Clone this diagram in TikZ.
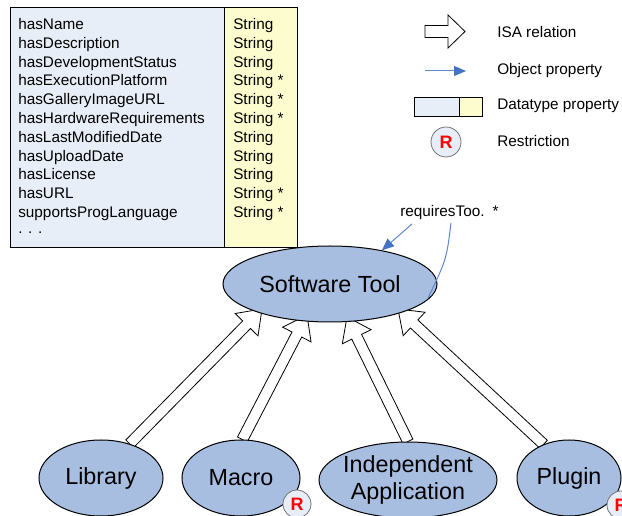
\documentclass[tikz,border=0pt]{standalone}
\usepackage{fontspec}
\setmainfont{Liberation Sans}
\usetikzlibrary{calc,arrows.meta,shapes.geometric}

\pgfdeclarelayer{back}
\pgfsetlayers{back,main}

\definecolor{classfill}{RGB}{168,190,225}
\definecolor{propfill}{RGB}{232,238,248}
\definecolor{typefill}{RGB}{252,252,206}
\definecolor{objblue}{RGB}{68,114,196}
\definecolor{objline}{RGB}{95,135,205}
\definecolor{rfill}{RGB}{232,238,248}
\definecolor{rred}{RGB}{255,0,0}

\tikzset{
  cls/.style={ellipse, draw=black, line width=0.75pt, fill=classfill,
    inner sep=-8pt, align=center,
    font=\fontsize{17.5pt}{20.25pt}\selectfont},
  small/.style={font=\fontsize{11.5pt}{13pt}\selectfont, inner sep=0pt},
  isa/.style={draw=black, fill=white, line width=0.6pt, line join=miter},
  objline/.style={draw=objline, line width=0.75pt},
  objprop/.style={objline, -{Triangle[length=9pt,width=7.5pt,color=objblue]}},
  rmark/.style={circle, draw=black!55, fill=rfill, line width=0.6pt,
    inner sep=0pt, text=rred,
    font=\fontsize{13.5pt}{14pt}\selectfont\bfseries},
  panel/.style={draw=black, line width=0.75pt},
}

% hollow block arrow: #1 tail, #2 tip, #3 half shaft width,
% #4 half head width, #5 head length
\newcommand\isaarrow[5]{%
  \coordinate (ba-neck) at ($(#2)!#5!(#1)$);
  \draw[isa] ($(#1)!#3!90:(#2)$) -- ($(ba-neck)!#3!90:(#2)$)
    -- ($(ba-neck)!#4!90:(#2)$) -- (#2)
    -- ($(ba-neck)!#4!-90:(#2)$) -- ($(ba-neck)!#3!-90:(#2)$)
    -- ($(#1)!#3!-90:(#2)$) -- cycle;}

\begin{document}
\begin{tikzpicture}[x=0.75pt, y=-0.75pt]
\useasboundingbox (0,0) rectangle (622,516);

% datatype properties of Software Tool
\draw[panel, fill=propfill] (10,8) rectangle (224,248);
\draw[panel, fill=typefill] (224,8) rectangle (297,248);
\foreach \pname/\ptype [count=\i from 0] in {
    hasName/String, hasDescription/String, hasDevelopmentStatus/String,
    hasExecutionPlatform/String *, hasGalleryImageURL/String *,
    hasHardwareRequirements/String *, hasLastModifiedDate/String,
    hasUploadDate/String, hasLicense/String, hasURL/String *,
    supportsProgLanguage/String *} {
  \node[small, anchor=base west] (pn\i) at (18, 29.5+18.8*\i) {\pname};
  \node[small, anchor=base west] (pt\i) at (233, 29.5+18.8*\i) {\ptype};
}
\node[small, anchor=base west] (pdots) at (18,234) {. . .};

% legend
\coordinate (lg-a) at (425,31.5);
\coordinate (lg-b) at (465,31.5);
\isaarrow{lg-a}{lg-b}{4.5pt}{12.4pt}{12.75pt}
\node[small, anchor=base west] (lg-isa) at (497,38) {ISA relation};
\coordinate (lg-c) at (425,71);
\coordinate (lg-d) at (466,71);
\draw[objprop] (lg-c) -- (lg-d);
\node[small, anchor=base west] (lg-obj) at (497,75) {Object property};
\draw[panel, line width=0.6pt, fill=propfill] (414,97) rectangle (459,116);
\draw[panel, line width=0.6pt, fill=typefill] (459,97) rectangle (482,116);
\node[small, anchor=base west] (lg-dt) at (497,110) {Datatype property};
\node[rmark, minimum size=22.5pt] (lg-r) at (446,142) {R};
\node[small, anchor=base west] (lg-rs) at (497,147) {Restriction};

% classes
\node[cls, minimum width=160.5pt, minimum height=57pt] (sw) at (330,284) {Software Tool};
\node[cls, minimum width=93pt, minimum height=57pt] (lib) at (101,478) {Library};
\node[cls, minimum width=88.5pt, minimum height=57pt] (mac) at (241,478) {Macro};
\node[cls, minimum width=133.5pt, minimum height=57pt] (ind) at (408,480) {Independent\\Application};
\node[cls, minimum width=78pt, minimum height=57pt] (plug) at (569,478) {Plugin};

% restrictions
\node[rmark, minimum size=21pt] (mac-r) at (297,504) {R};
\node[rmark, minimum size=21pt] (plug-r) at (621,505) {R};

% subclass (ISA) arrows, beneath the classes
\begin{pgfonlayer}{back}
  \coordinate (tip-lib) at ($(sw.center)+(-68,25)$);
  \coordinate (tip-mac) at ($(sw.center)+(-23,31)$);
  \coordinate (tip-ind) at ($(sw.center)+(17,33)$);
  \coordinate (tip-plug) at ($(sw.center)+(68,25)$);
  \isaarrow{lib.50}{tip-lib}{4.1pt}{12pt}{16.5pt}
  \isaarrow{mac.88}{tip-mac}{4.1pt}{12pt}{16.5pt}
  \isaarrow{ind.90}{tip-ind}{4.1pt}{12pt}{16.5pt}
  \isaarrow{plug.127}{tip-plug}{4.1pt}{12pt}{16.5pt}
\end{pgfonlayer}

% requiresTool object property (self loop)
\node[small, anchor=base west] (req) at (400,217) {requiresToo.\hspace{6pt}*};
\coordinate (req-in) at (412,224);
\coordinate (req-out) at (451,223);
\coordinate (sw-loop) at ($(sw.center)+(98,14)$);
\draw[objline] (sw-loop) .. controls (446.5,259.5) .. (req-out);
\draw[objprop] (req-in) -- (sw.33);
\end{tikzpicture}
\end{document}
